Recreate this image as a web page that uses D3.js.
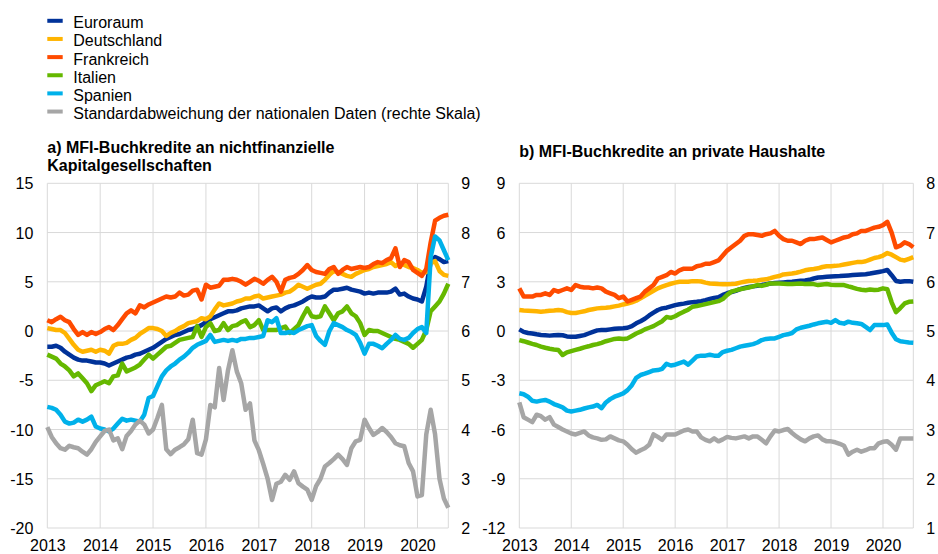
<!DOCTYPE html>
<html>
<head>
<meta charset="utf-8">
<script src="https://cdn.jsdelivr.net/npm/d3@7"></script>
<style>
  body { margin: 0; background: #fff; }
  svg { display: block; font-family: "Liberation Sans", Arial, sans-serif; }
</style>
</head>
<body>
<svg id="chart" width="938" height="554"></svg>
<script>
// monthly, Jan 2013 - Aug 2020 (one row per year)
const years = ['2013', '2014', '2015', '2016', '2017', '2018', '2019', '2020'];

const seriesNames = ['Euroraum', 'Deutschland', 'Frankreich', 'Italien', 'Spanien',
  'Standardabweichung der nationalen Daten (rechte Skala)'];
const seriesColors = ['#003299', '#ffb400', '#ff4b00', '#65b800', '#00b1ea', '#a6a6a6'];

// a) loans to non-financial corporations (% y/y)
const nfcEuroraum = [
  -1.6, -1.6, -1.5, -1.7, -2.1, -2.4, -2.7, -2.9, -3.0, -3.0, -3.1, -3.2,
  -3.2, -3.3, -3.5, -3.3, -3.1, -2.9, -2.7, -2.6, -2.4, -2.3, -2.1, -1.9,
  -1.7, -1.4, -1.1, -0.8, -0.6, -0.4, -0.3, -0.1, 0.1, 0.2, 0.4, 0.6,
  0.9, 1.2, 1.4, 1.6, 1.8, 2.0, 2.0, 2.1, 2.3, 2.4, 2.5, 2.5,
  2.6, 2.3, 2.0, 2.3, 2.4, 2.0, 2.3, 2.5, 2.6, 2.8, 3.0, 3.3,
  3.5, 3.4, 3.4, 3.5, 3.9, 4.2, 4.2, 4.3, 4.4, 4.2, 4.1, 4.0,
  3.8, 3.9, 3.8, 3.9, 3.9, 3.9, 4.0, 4.3, 3.7, 3.8, 3.5, 3.3,
  3.2, 3.0, 4.5, 7.0, 7.5, 7.3, 7.0, 7.1];
const nfcDeutschland = [
  0.3, 0.2, 0.1, 0.1, -0.2, -0.8, -1.4, -1.9, -2.1, -2.0, -1.9, -2.1,
  -1.9, -2.0, -2.3, -1.5, -1.3, -1.3, -1.2, -0.9, -0.7, -0.3, 0.0, 0.3,
  0.3, 0.2, 0.0, -0.5, -0.2, 0.0, 0.3, 0.5, 0.8, 0.9, 1.0, 1.3,
  1.2, 1.5, 2.2, 2.8, 2.6, 2.7, 2.8, 3.0, 3.1, 3.3, 3.3, 3.5,
  3.6, 3.3, 3.4, 3.5, 3.6, 3.7, 3.9, 4.0, 4.3, 4.7, 4.5, 4.3,
  4.5, 4.7, 4.8, 5.2, 5.7, 6.1, 6.0, 5.8, 5.6, 5.5, 5.8, 6.0,
  6.2, 6.3, 6.5, 6.6, 6.7, 6.8, 7.0, 6.6, 6.9, 6.7, 6.5, 6.4,
  6.2, 5.9, 6.0, 6.9, 7.1, 6.1, 5.7, 5.6];
const nfcFrankreich = [
  1.1, 0.9, 1.2, 1.45, 1.1, 0.9, 0.2, -0.4, -0.1, -0.4, -0.1, -0.3,
  -0.1, 0.2, 0.4, 0.1, 0.6, 1.2, 1.8, 2.1, 1.8, 2.6, 2.4, 2.7,
  2.9, 3.1, 3.3, 3.5, 3.4, 3.5, 3.9, 3.6, 3.7, 4.1, 4.2, 3.2,
  4.7, 4.4, 4.5, 4.6, 5.2, 5.2, 5.3, 5.2, 5.0, 4.7, 5.0, 5.3,
  5.1, 4.8, 5.2, 5.5, 5.0, 4.0, 5.2, 5.4, 5.5, 5.8, 6.2, 6.7,
  6.2, 6.0, 5.9, 5.8, 6.3, 6.5, 5.8, 6.2, 6.5, 6.3, 6.4, 6.5,
  6.4, 6.5, 6.8, 7.0, 6.9, 7.2, 7.4, 8.4, 6.5, 7.2, 7.0, 6.2,
  5.9, 5.6, 6.3, 9.0, 11.2, 11.5, 11.7, 11.8];
const nfcItalien = [
  -2.4, -2.6, -2.8, -3.3, -3.6, -4.0, -4.6, -4.3, -4.8, -5.3, -6.1, -5.5,
  -5.3, -5.1, -5.3, -4.6, -4.5, -3.3, -4.1, -3.9, -3.7, -3.4, -2.9, -2.4,
  -2.8, -2.4, -2.0, -1.6, -1.5, -1.2, -0.9, -0.8, -0.7, -0.6, 0.5, -0.6,
  0.4, 0.8, 0.0, 0.1, 0.8, 0.1, 0.5, 0.6, 0.9, 1.1, 0.4, 0.6,
  1.1, 0.1, 0.1, 0.1, 0.1, 0.3, 0.45, -0.2, 0.2, 0.6, 1.5, 2.3,
  1.5, 1.4, 1.5, 2.5, 1.8, 1.1, 1.8, 2.0, 2.5, 1.8, 1.5, 0.8,
  -0.4, 0.1, 0.0, 0.0, -0.2, -0.4, -0.6, -0.8, -0.9, -1.1, -1.3, -1.7,
  -1.3, -0.9, 0.1, 2.0, 2.5, 3.0, 3.8, 4.8];
const nfcSpanien = [
  -7.7, -7.8, -8.0, -8.5, -9.2, -9.4, -9.3, -9.0, -9.2, -9.0, -8.7, -9.7,
  -9.9, -10.0, -10.2, -9.9, -9.4, -8.9, -9.1, -9.0, -9.1, -9.2, -8.5, -6.8,
  -6.6, -5.6, -4.6, -4.0, -3.6, -3.3, -2.9, -2.6, -2.2, -1.7, -1.4, -1.2,
  -1.0, -0.4, -1.1, -1.0, -0.9, -1.0, -0.9, -1.0, -0.8, -0.8, -0.7, -0.7,
  -0.6, -0.5, 1.1, 0.9, 1.3, -0.2, -0.2, -0.1, -0.2, 0.1, 0.3, 0.5,
  0.6, -0.5, -1.0, -1.4, 0.0, 0.8, 0.6, 0.4, 0.1, -0.1, -0.4, -1.2,
  -2.3, -1.3, -1.3, -1.5, -1.75, -1.3, -0.9, -0.4, -0.8, -0.9, -0.7, -0.2,
  0.2, 0.4, -0.2, 7.5, 9.6, 9.2, 8.2, 7.2];
const nfcStdAbw = [
  4.05, 3.85, 3.72, 3.62, 3.59, 3.67, 3.64, 3.62, 3.55, 3.49, 3.6, 3.75,
  3.86, 3.97, 4.0, 3.78, 3.82, 3.6, 3.87, 3.97, 4.1, 4.18, 4.1, 3.92,
  4.0, 4.24, 4.5, 3.6, 3.5, 3.59, 3.64, 3.7, 3.8, 4.2, 3.52, 3.49,
  3.8, 4.5, 4.45, 5.25, 4.6, 5.2, 5.61, 5.18, 4.94, 4.4, 4.53, 3.78,
  3.58, 3.3, 3.0, 2.57, 2.9, 2.94, 3.08, 2.98, 3.15, 2.91, 2.84, 2.78,
  2.57, 2.85, 3.0, 3.25, 3.32, 3.4, 3.49, 3.4, 3.28, 3.62, 3.76, 3.79,
  4.2, 4.03, 3.89, 3.95, 4.03, 3.95, 3.85, 3.72, 3.68, 3.66, 3.32, 3.15,
  2.64, 2.67, 3.9, 4.4, 3.9, 3.0, 2.6, 2.41];

// b) loans to households (% y/y)
const hhEuroraum = [
  0.1, -0.05, -0.12, -0.15, -0.2, -0.24, -0.26, -0.28, -0.26, -0.24, -0.26, -0.33,
  -0.35, -0.35, -0.3, -0.25, -0.15, -0.05, 0.04, 0.06, 0.06, 0.1, 0.14, 0.16,
  0.17, 0.2, 0.3, 0.47, 0.6, 0.75, 0.95, 1.12, 1.28, 1.38, 1.42, 1.5,
  1.58, 1.63, 1.67, 1.72, 1.76, 1.78, 1.82, 1.88, 1.95, 2.02, 2.06, 2.2,
  2.3, 2.38, 2.45, 2.55, 2.62, 2.68, 2.72, 2.76, 2.8, 2.85, 2.9, 2.92,
  2.94, 2.96, 2.98, 3.0, 3.03, 3.06, 3.08, 3.12, 3.2, 3.26, 3.28, 3.3,
  3.32, 3.34, 3.35, 3.37, 3.39, 3.41, 3.43, 3.45, 3.46, 3.5, 3.55, 3.6,
  3.65, 3.72, 3.4, 3.05, 3.0, 3.03, 3.04, 3.0];
const hhDeutschland = [
  1.28, 1.25, 1.24, 1.22, 1.2, 1.18, 1.2, 1.24, 1.25, 1.28, 1.25, 1.15,
  1.1, 1.1, 1.15, 1.2, 1.28, 1.33, 1.38, 1.4, 1.42, 1.45, 1.5, 1.55,
  1.62, 1.68, 1.75, 1.85, 1.99, 2.15, 2.3, 2.45, 2.6, 2.7, 2.8, 2.88,
  2.95, 3.0, 3.0, 3.0, 3.04, 3.04, 3.02, 2.95, 2.9, 2.88, 2.86, 2.85,
  2.85, 2.86, 2.88, 2.95, 3.0, 3.05, 3.06, 3.08, 3.12, 3.15, 3.22, 3.3,
  3.35, 3.45, 3.48, 3.5, 3.55, 3.62, 3.7, 3.75, 3.78, 3.82, 3.9, 3.95,
  3.95, 3.97, 4.0, 4.05, 4.1, 4.15, 4.2, 4.2, 4.25, 4.35, 4.45, 4.5,
  4.6, 4.75, 4.65, 4.5, 4.35, 4.3, 4.4, 4.5];
const hhFrankreich = [
  2.6, 2.1, 2.1, 2.1, 2.2, 2.2, 2.3, 2.2, 2.5, 2.4, 2.5, 2.6,
  2.5, 2.8, 2.7, 2.65, 2.65, 2.6, 2.65, 2.6, 2.4, 2.3, 2.2, 2.0,
  2.1, 1.8, 1.9, 2.0, 2.1, 2.4, 2.6, 2.8, 3.2, 3.3, 3.4, 3.6,
  3.5, 3.7, 3.8, 3.8, 3.8, 3.95, 4.0, 4.1, 4.1, 4.2, 4.3, 4.6,
  4.9, 5.1, 5.3, 5.5, 5.8, 5.9, 5.9, 5.85, 5.8, 5.9, 5.95, 6.1,
  5.8, 5.6, 5.5, 5.5, 5.4, 5.3, 5.5, 5.6, 5.6, 5.65, 5.7, 5.55,
  5.4, 5.5, 5.6, 5.7, 5.75, 5.9, 5.95, 6.1, 6.1, 6.2, 6.3, 6.35,
  6.45, 6.65, 6.0, 5.1, 5.2, 5.4, 5.3, 5.1];
const hhItalien = [
  -0.55, -0.62, -0.7, -0.78, -0.85, -0.95, -1.02, -1.08, -1.12, -1.15, -1.46, -1.3,
  -1.22, -1.15, -1.08, -1.0, -0.93, -0.85, -0.8, -0.72, -0.62, -0.55, -0.48, -0.45,
  -0.48, -0.45, -0.3, -0.15, -0.04, 0.1, 0.2, 0.3, 0.45, 0.6, 0.85, 0.8,
  0.9, 1.05, 1.18, 1.3, 1.48, 1.52, 1.58, 1.64, 1.7, 1.76, 1.82, 1.95,
  2.2, 2.4, 2.48, 2.55, 2.6, 2.65, 2.72, 2.8, 2.75, 2.82, 2.9, 2.9,
  2.9, 2.88, 2.86, 2.86, 2.88, 2.9, 2.86, 2.88, 2.86, 2.8, 2.84, 2.86,
  2.82, 2.8, 2.8, 2.8, 2.72, 2.65, 2.57, 2.52, 2.49, 2.53, 2.5, 2.52,
  2.6, 2.55, 1.75, 1.15, 1.4, 1.68, 1.78, 1.8];
const hhSpanien = [
  -3.79, -3.85, -4.0, -4.25, -4.3, -4.24, -4.2, -4.3, -4.45, -4.55, -4.65, -4.85,
  -4.9, -4.85, -4.8, -4.72, -4.65, -4.6, -4.5, -4.7, -4.35, -4.15, -4.0, -3.9,
  -3.8, -3.6, -3.3, -2.85, -2.68, -2.6, -2.5, -2.4, -2.38, -2.3, -2.0, -2.1,
  -2.05, -1.95, -1.86, -2.05, -1.8, -1.55, -1.5, -1.5, -1.45, -1.5, -1.5, -1.28,
  -1.2, -1.15, -1.05, -0.95, -0.9, -0.85, -0.8, -0.7, -0.55, -0.48, -0.45, -0.45,
  -0.35, -0.25, -0.2, -0.12, 0.1, 0.2, 0.26, 0.32, 0.4, 0.47, 0.52, 0.57,
  0.5, 0.67, 0.5, 0.45, 0.57, 0.5, 0.47, 0.43, 0.25, 0.06, 0.36, 0.36,
  0.36, 0.4, -0.1, -0.5, -0.62, -0.66, -0.7, -0.72];
const hhStdAbw = [
  3.55, 3.25, 3.2, 3.15, 3.3, 3.27, 3.2, 3.25, 3.1, 3.05, 3.0, 2.96,
  2.92, 2.9, 2.93, 2.96, 2.88, 2.84, 2.82, 2.79, 2.8, 2.86, 2.82, 2.78,
  2.76, 2.69, 2.6, 2.53, 2.58, 2.62, 2.69, 2.9, 2.85, 2.79, 2.9, 2.9,
  2.9, 2.94, 2.98, 3.0, 2.96, 2.96, 2.84, 2.79, 2.76, 2.82, 2.76, 2.8,
  2.85, 2.83, 2.82, 2.84, 2.86, 2.82, 2.86, 2.86, 2.79, 2.72, 2.86, 2.98,
  2.96, 2.99, 3.01, 2.93, 2.86, 2.8, 2.76, 2.82, 2.86, 2.88, 2.8, 2.76,
  2.76, 2.74, 2.71, 2.67, 2.49, 2.55, 2.59, 2.55, 2.58, 2.62, 2.62, 2.72,
  2.75, 2.76, 2.69, 2.59, 2.82, 2.82, 2.82, 2.82];

const nfcLeftTicks = [-20, -15, -10, -5, 0, 5, 10, 15];
const nfcRightTicks = [2, 3, 4, 5, 6, 7, 8, 9];
const hhLeftTicks = [-12, -9, -6, -3, 0, 3, 6, 9];
const hhRightTicks = [1, 2, 3, 4, 5, 6, 7, 8];

const titleA = ['a) MFI-Buchkredite an nichtfinanzielle', 'Kapitalgesellschaften'];
const titleB = ['b) MFI-Buchkredite an private Haushalte'];

const svg = d3.select('#chart');
const gridColor = '#d9d9d9';
const fontSize = 16;

// legend
const legend = svg.append('g');
seriesNames.forEach((name, i) => {
  const base = 28.3 + i * 18.15;
  legend.append('rect')
    .attr('x', 47.3).attr('y', base - 9.5)
    .attr('width', 15.4).attr('height', 4)
    .attr('fill', seriesColors[i]);
  legend.append('text')
    .attr('x', 73.3).attr('y', base)
    .attr('font-size', fontSize)
    .attr('fill', '#000')
    .text(name);
});

function drawPanel(cfg) {
  const { left, right, top, bottom } = cfg;
  const g = svg.append('g');

  const n = cfg.series[0].length;
  const x = d3.scaleLinear().domain([0, n - 1]).range([left, right]);
  const yL = d3.scaleLinear().domain(d3.extent(cfg.leftTicks)).range([bottom, top]);
  const yR = d3.scaleLinear().domain(d3.extent(cfg.rightTicks)).range([bottom, top]);
  const yearTicks = years.map((d, i) => i * 12);

  // title
  cfg.title.forEach((t, i) => {
    g.append('text')
      .attr('x', left).attr('y', cfg.titleY + i * 18)
      .attr('font-size', fontSize)
      .attr('font-weight', 'bold')
      .attr('fill', '#000')
      .text(t);
  });

  // grid
  g.append('g').selectAll('line.h')
    .data(cfg.leftTicks)
    .join('line')
    .attr('x1', left).attr('x2', right)
    .attr('y1', (d) => yL(d)).attr('y2', (d) => yL(d))
    .attr('stroke', gridColor).attr('stroke-width', 1);
  g.append('g').selectAll('line.v')
    .data(yearTicks.concat([n - 1]))
    .join('line')
    .attr('x1', (d) => x(d)).attr('x2', (d) => x(d))
    .attr('y1', top).attr('y2', bottom)
    .attr('stroke', gridColor).attr('stroke-width', 1);

  // axes
  const axL = g.append('g')
    .attr('transform', `translate(${left},0)`)
    .call(d3.axisLeft(yL).tickValues(cfg.leftTicks).tickFormat((d) => d)
      .tickSize(0).tickPadding(14));
  const axR = g.append('g')
    .attr('transform', `translate(${right},0)`)
    .call(d3.axisRight(yR).tickValues(cfg.rightTicks).tickFormat((d) => d)
      .tickSize(0).tickPadding(13));
  const axB = g.append('g')
    .attr('transform', `translate(0,${bottom})`)
    .call(d3.axisBottom(x).tickValues(yearTicks).tickSize(0).tickPadding(12)
      .tickFormat((d, i) => years[i]));
  [axL, axR, axB].forEach((ax) => {
    ax.select('.domain').remove();
    ax.selectAll('text')
      .attr('font-size', fontSize)
      .attr('font-family', '"Liberation Sans", Arial, sans-serif')
      .attr('fill', '#000');
  });
  axL.selectAll('text').attr('dy', '0.35em');
  axR.selectAll('text').attr('dy', '0.35em');

  // lines
  cfg.series.forEach((vals, i) => {
    const ys = i === 5 ? yR : yL;
    const line = d3.line().x((d, j) => x(j)).y((d) => ys(d));
    g.append('path')
      .datum(vals)
      .attr('d', line)
      .attr('fill', 'none')
      .attr('stroke', seriesColors[i])
      .attr('stroke-width', 4.5)
      .attr('stroke-linejoin', 'round')
      .attr('stroke-linecap', 'butt');
  });
}

drawPanel({
  left: 47.3, right: 448.3, top: 183.3, bottom: 528,
  title: titleA, titleY: 152.7,
  leftTicks: nfcLeftTicks, rightTicks: nfcRightTicks,
  series: [nfcEuroraum, nfcDeutschland, nfcFrankreich, nfcItalien, nfcSpanien, nfcStdAbw],
});

drawPanel({
  left: 519.3, right: 913.3, top: 183.3, bottom: 528,
  title: titleB, titleY: 157.3,
  leftTicks: hhLeftTicks, rightTicks: hhRightTicks,
  series: [hhEuroraum, hhDeutschland, hhFrankreich, hhItalien, hhSpanien, hhStdAbw],
});
</script>
</body>
</html>
